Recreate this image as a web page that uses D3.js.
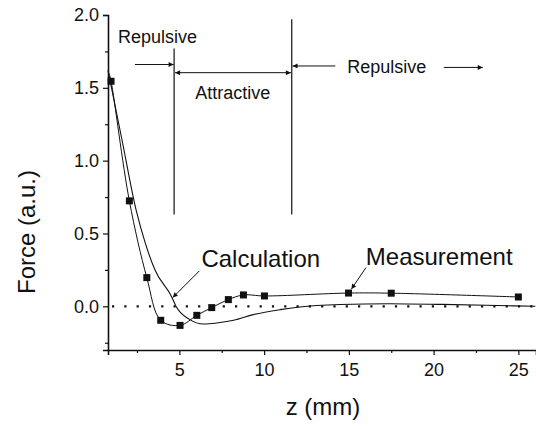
<!DOCTYPE html>
<html>
<head>
<meta charset="utf-8">
<script src="https://cdn.jsdelivr.net/npm/d3@7"></script>
<style>
  body { margin: 0; background: #fff; }
  svg { font-family: "Liberation Sans", Arial, sans-serif; }
</style>
</head>
<body>
<div id="chart-area"></div>
<script>
// Force vs z: measurement squares and calculation curve
var measZ = [0.97, 2.05, 3.08, 3.9, 5.04, 6.03, 6.91, 7.89, 8.78, 10.02, 14.98, 17.5, 25.0];
var measF = [1.545, 0.724, 0.197, -0.096, -0.131, -0.062, -0.009, 0.046, 0.078, 0.071, 0.091, 0.090, 0.064];

var calcZ = [0.79, 1.62, 2.45, 3.0, 3.57, 4.55, 4.8, 5.6, 6.42, 7.3, 8.2, 9.36, 10.94, 12.1, 14.5, 17.4, 20.5, 23.1, 26.0];
var calcF = [1.62, 1.14, 0.66, 0.43, 0.247, 0.064, 0.0, -0.09, -0.122, -0.113, -0.096, -0.057, -0.023, -0.005, 0.012, 0.018, 0.013, 0.007, 0.0];

var xMajor = [5, 10, 15, 20, 25];
var xMinor = [2.5, 7.5, 12.5, 17.5, 22.5];
var yMajor = [0.0, 0.5, 1.0, 1.5, 2.0];
var yMinor = [-0.25, 0.25, 0.75, 1.25, 1.75];

var width = 536, height = 429;
var ink = "#111";

var svg = d3.select("#chart-area").append("svg")
    .attr("width", width)
    .attr("height", height);

var x = d3.scaleLinear().domain([0.79, 26.04]).range([108, 536]);
var y = d3.scaleLinear().domain([-0.3, 2.0]).range([350, 15]);

// arrow marker
svg.append("defs").append("marker")
    .attr("id", "head")
    .attr("viewBox", "0 0 10 10")
    .attr("refX", 10).attr("refY", 5)
    .attr("markerWidth", 7).attr("markerHeight", 5)
    .attr("markerUnits", "userSpaceOnUse")
    .attr("orient", "auto-start-reverse")
    .append("path")
    .attr("d", "M0,0 L10,5 L0,10 Z")
    .attr("fill", ink);

// axes
var yAxisG = svg.append("g").attr("transform", "translate(" + x.range()[0] + ",0)");
yAxisG.call(d3.axisLeft(y).tickValues(yMajor).tickSize(5).tickPadding(4).tickFormat(d3.format(".1f")));
var yMinorG = svg.append("g").attr("transform", "translate(" + x.range()[0] + ",0)");
yMinorG.call(d3.axisLeft(y).tickValues(yMinor).tickSize(3).tickFormat(""));

var xAxisG = svg.append("g").attr("transform", "translate(0," + y.range()[0] + ")");
xAxisG.call(d3.axisBottom(x).tickValues(xMajor).tickSize(5).tickPadding(8).tickFormat(d3.format("d")));
var xMinorG = svg.append("g").attr("transform", "translate(0," + y.range()[0] + ")");
xMinorG.call(d3.axisBottom(x).tickValues(xMinor).tickSize(3).tickFormat(""));

svg.selectAll(".domain").attr("stroke", ink).attr("stroke-width", 1.6);
svg.selectAll(".tick line").attr("stroke", ink).attr("stroke-width", 1.2);
svg.selectAll(".tick text")
    .attr("font-size", "18px")
    .attr("font-family", "'Liberation Sans', Arial, sans-serif")
    .attr("fill", ink);
yMinorG.select(".domain").remove();
xMinorG.select(".domain").remove();

// axis labels
svg.append("text")
    .attr("x", (x.range()[0] + x.range()[1]) / 2 + 1)
    .attr("y", 415)
    .attr("text-anchor", "middle")
    .attr("font-size", "24px")
    .attr("fill", ink)
    .text("z (mm)");

svg.append("text")
    .attr("transform", "translate(35,232) rotate(-90)")
    .attr("text-anchor", "middle")
    .attr("font-size", "24px")
    .attr("fill", ink)
    .text("Force (a.u.)");

// zero dotted line
svg.append("line")
    .attr("x1", x.range()[0] + 4).attr("x2", x.range()[1])
    .attr("y1", y(0)).attr("y2", y(0))
    .attr("stroke", ink)
    .attr("stroke-width", 2.2)
    .attr("stroke-dasharray", "2.2,10.1");

// curves
var calcData = calcZ.map(function(z, i) { return [z, calcF[i]]; });
var measData = measZ.map(function(z, i) { return [z, measF[i]]; });

var calcLine = d3.line()
    .x(function(d) { return x(d[0]); })
    .y(function(d) { return y(d[1]); })
    .curve(d3.curveMonotoneX);

var measLine = d3.line()
    .x(function(d) { return x(d[0]); })
    .y(function(d) { return y(d[1]); })
    .curve(d3.curveCatmullRom.alpha(0.5));

svg.append("path")
    .datum(calcData)
    .attr("d", calcLine)
    .attr("fill", "none")
    .attr("stroke", ink)
    .attr("stroke-width", 1.1);

svg.append("path")
    .datum([[0.85, 1.6]].concat(measData))
    .attr("d", measLine)
    .attr("fill", "none")
    .attr("stroke", ink)
    .attr("stroke-width", 1);

svg.selectAll("rect.meas")
    .data(measData)
    .enter().append("rect")
    .attr("class", "meas")
    .attr("x", function(d) { return x(d[0]) - 3.5; })
    .attr("y", function(d) { return y(d[1]) - 3.5; })
    .attr("width", 7)
    .attr("height", 7)
    .attr("fill", ink);

// region boundaries
var bounds = [[4.69, 1.77], [11.63, 1.97]];
svg.selectAll("line.bound")
    .data(bounds)
    .enter().append("line")
    .attr("class", "bound")
    .attr("x1", function(d) { return x(d[0]); })
    .attr("x2", function(d) { return x(d[0]); })
    .attr("y1", function(d) { return y(d[1]); })
    .attr("y2", y(0.63))
    .attr("stroke", ink)
    .attr("stroke-width", 1.2);

function arrow(z1, f1, z2, f2, both) {
    var l = svg.append("line")
        .attr("x1", x(z1)).attr("y1", y(f1))
        .attr("x2", x(z2)).attr("y2", y(f2))
        .attr("stroke", ink)
        .attr("stroke-width", 1)
        .attr("marker-end", "url(#head)");
    if (both) l.attr("marker-start", "url(#head)");
}

arrow(2.38, 1.66, 4.66, 1.66);
arrow(4.75, 1.604, 11.58, 1.604, true);
arrow(14.2, 1.65, 11.68, 1.65);
arrow(20.6, 1.64, 22.9, 1.64);
arrow(6.18, 0.243, 4.61, 0.06);
arrow(16.01, 0.266, 15.15, 0.118);

function note(txt, zx, fy, size) {
    svg.append("text")
        .attr("x", x(zx)).attr("y", y(fy))
        .attr("font-size", size)
        .attr("fill", ink)
        .text(txt);
}

note("Repulsive", 1.38, 1.808, "18px");
note("Attractive", 5.93, 1.423, "18px");
note("Repulsive", 14.9, 1.60, "18px");
note("Calculation", 6.3, 0.268, "24px");
note("Measurement", 16.0, 0.282, "24px");
</script>
</body>
</html>
